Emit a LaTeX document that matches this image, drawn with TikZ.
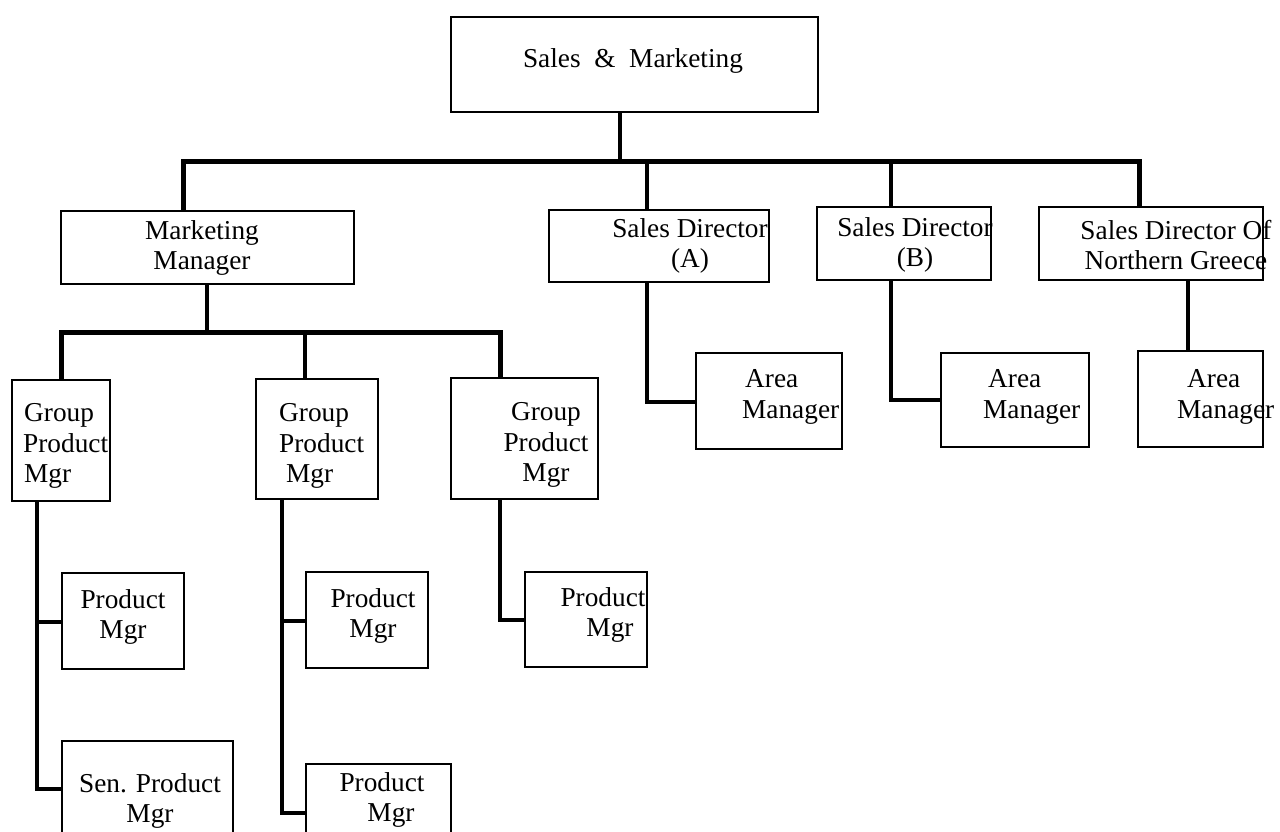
\documentclass[tikz,border=0pt]{standalone}
\usepackage{fontspec}
\setmainfont{Liberation Serif}
\begin{document}
\begin{tikzpicture}[x=1pt,y=-1pt,
  orgbox/.style={draw, line width=1.8pt, rectangle, inner sep=0pt, outer sep=0pt, anchor=north west},
  lbl/.style={align=center, inner sep=0pt, font=\fontsize{27.3}{30.5}\selectfont},
  lbll/.style={lbl, align=left, anchor=west},
  link/.style={line width=3.6pt, line join=miter},
  bus/.style={line width=5pt, line join=miter}]
\useasboundingbox (0,0) rectangle (1280,831);

% ---- boxes ----
\node[orgbox, minimum width=367, minimum height=95] (sm)   at (451,17)  {};
\node[orgbox, minimum width=293, minimum height=73] (mm)   at (61,211)  {};
\node[orgbox, minimum width=220, minimum height=72] (sda)  at (549,210) {};
\node[orgbox, minimum width=174, minimum height=73] (sdb)  at (817,207) {};
\node[orgbox, minimum width=224, minimum height=73] (sdng) at (1039,207) {};
\node[orgbox, minimum width=146, minimum height=96] (ama)  at (696,353) {};
\node[orgbox, minimum width=148, minimum height=94] (amb)  at (941,353) {};
\node[orgbox, minimum width=125, minimum height=96] (amng) at (1138,351) {};
\node[orgbox, minimum width=98,  minimum height=121] (gpa) at (12,380)  {};
\node[orgbox, minimum width=122, minimum height=120] (gpb) at (256,379) {};
\node[orgbox, minimum width=147, minimum height=121] (gpc) at (451,378) {};
\node[orgbox, minimum width=122, minimum height=96]  (pma) at (62,573)  {};
\node[orgbox, minimum width=171, minimum height=110] (spm) at (62,741)  {};
\node[orgbox, minimum width=122, minimum height=96]  (pmb) at (306,572) {};
\node[orgbox, minimum width=145, minimum height=90]  (pmc) at (306,764) {};
\node[orgbox, minimum width=122, minimum height=95]  (pmd) at (525,572) {};

% ---- texts ----
\node[lbl] (sm-t)   at (633,61)  {Sales \ \& \ Marketing};
\node[lbl] (mm-t)   at (202,248) {Marketing\\Manager};
\node[lbl] (sda-t)  at (690,246) {Sales Director\\(A)};
\node[lbl] (sdb-t)  at (915,245) {Sales Director\\(B)};
\node[lbl] (sdng-t) at (1176,245) {Sales Director Of\\Northern Greece};
\node[lbll] (ama-t)  at (742,397)  {\hspace*{3pt}Area\\Manager};
\node[lbll] (amb-t)  at (983,397)  {\hspace*{5pt}Area\\Manager};
\node[lbll] (amng-t) at (1177,397) {\hspace*{10pt}Area\\Manager};
\node[lbll] (gpa-t)  at (23,446)  {\hspace*{1pt}Group\\Product\\\hspace*{1pt}Mgr};
\node[lbll] (gpb-t)  at (279,446) {Group\\Product\\\hspace*{7pt}Mgr};
\node[lbl]  (gpc-t)  at (546,445) {Group\\Product\\Mgr};
\node[lbl]  (pma-t)  at (123,617) {Product\\Mgr};
\node[lbl]  (spm-t)  at (150,801) {Sen. Product\\Mgr};
\node[lbl]  (pmb-t)  at (373,616) {Product\\Mgr};
\node[lbl]  (pmc-t)  at (382,800) {Product\\\hspace*{18pt}Mgr};
\node[lbl]  (pmd-t)  at (603,615) {Product\\\hspace*{14pt}Mgr};

% ---- junction points ----
\coordinate (stem) at (620,161);
\coordinate (busL) at (183,161);
\coordinate (busR) at (1139,161);
\coordinate (dA)   at (647,161);
\coordinate (dB)   at (891,161);
\coordinate (kA)   at (647,402);
\coordinate (kB)   at (891,400);
\coordinate (kN)   at (1188,300);
\coordinate (mstem) at (207,332);
\coordinate (b2L)  at (61,332);
\coordinate (b2M)  at (305,332);
\coordinate (b2R)  at (500,332);
\coordinate (s1a)  at (37,622);
\coordinate (s1b)  at (37,789);
\coordinate (s2a)  at (282,621);
\coordinate (s2b)  at (282,813);
\coordinate (s3)   at (500,620);

% ---- connectors ----
\draw[link] (stem |- sm.south) -- (stem);
\draw[bus]  (busL |- mm.north) -- (busL) -- (busR) -- (busR |- sdng.north);
\draw[link] (dA) -- (dA |- sda.north);
\draw[link] (dB) -- (dB |- sdb.north);
\draw[link] (kA |- sda.south) -- (kA) -- (kA -| ama.west);
\draw[link] (kB |- sdb.south) -- (kB) -- (kB -| amb.west);
\draw[link] (kN |- sdng.south) -- (kN |- amng.north);
\draw[link] (mstem |- mm.south) -- (mstem);
\draw[bus]  (b2L |- gpa.north) -- (b2L) -- (b2R) -- (b2R |- gpc.north);
\draw[link] (b2M) -- (b2M |- gpb.north);
\draw[link] (s1a |- gpa.south) -- (s1b) -- (s1b -| spm.west);
\draw[link] (s1a) -- (s1a -| pma.west);
\draw[link] (s2a |- gpb.south) -- (s2b) -- (s2b -| pmc.west);
\draw[link] (s2a) -- (s2a -| pmb.west);
\draw[link] (s3 |- gpc.south) -- (s3) -- (s3 -| pmd.west);
\end{tikzpicture}
\end{document}
